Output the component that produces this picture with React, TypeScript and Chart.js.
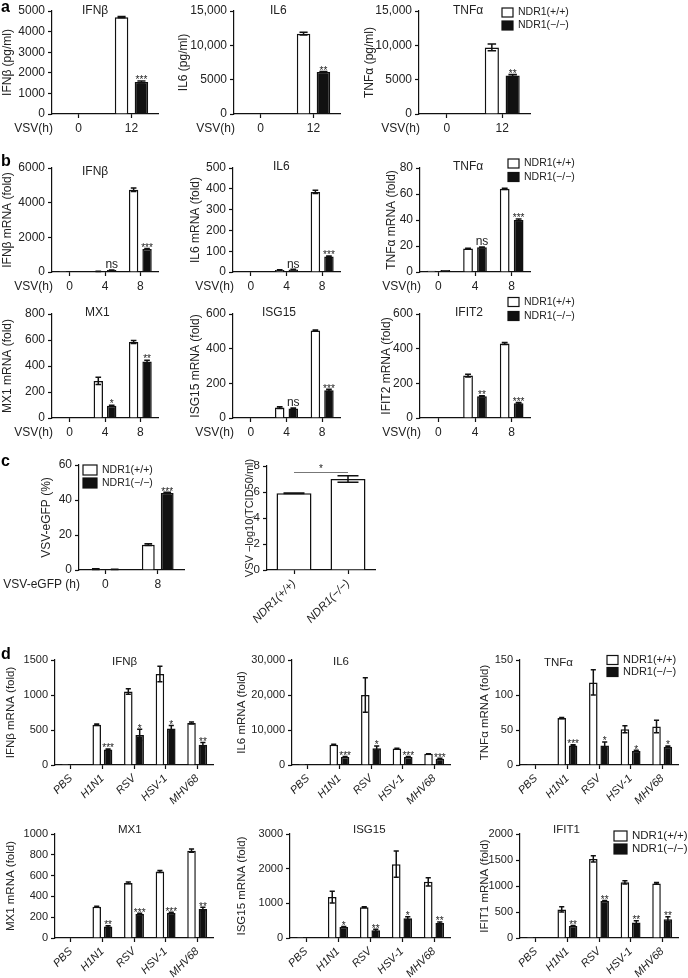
import React, { useEffect, useRef } from "react";
import { Chart, registerables } from "chart.js";
Chart.register(...registerables);

const FONT = "'Liberation Sans', Arial, Helvetica, sans-serif";
const INK = "#111";
const TXT = "#222";

// ---------- data ----------
const catA = ["0", "12"];
const aIfnbWT = [20, 4700];
const aIfnbWTErr = [0, 30];
const aIfnbKO = [20, 1550];
const aIfnbKOErr = [0, 50];
const aIfnbSig = ["", "***"];
const aIl6WT = [80, 11700];
const aIl6WTErr = [0, 200];
const aIl6KO = [60, 6100];
const aIl6KOErr = [0, 100];
const aIl6Sig = ["", "**"];
const aTnfWT = [60, 9700];
const aTnfWTErr = [0, 500];
const aTnfKO = [40, 5600];
const aTnfKOErr = [0, 150];
const aTnfSig = ["", "**"];

const catB = ["0", "4", "8"];
const bIfnbWT = [3, 40, 4750];
const bIfnbWTErr = [0, 5, 100];
const bIfnbKO = [3, 110, 1330];
const bIfnbKOErr = [0, 10, 20];
const bIfnbSig = ["", "ns", "***"];
const bIl6WT = [3, 10, 385];
const bIl6WTErr = [0, 1, 8];
const bIl6KO = [2, 12, 75];
const bIl6KOErr = [0, 1, 2];
const bIl6Sig = ["", "ns", "***"];
const bTnfWT = [1, 18, 64];
const bTnfWTErr = [0, 0.3, 0.5];
const bTnfKO = [1.5, 19, 40];
const bTnfKOErr = [0, 0.3, 0.8];
const bTnfSig = ["", "ns", "***"];
const bMx1WT = [5, 285, 585];
const bMx1WTErr = [0, 28, 12];
const bMx1KO = [1, 95, 435];
const bMx1KOErr = [0, 4, 10];
const bMx1Sig = ["", "*", "**"];
const bIsgWT = [3, 60, 505];
const bIsgWTErr = [0, 5, 3];
const bIsgKO = [3, 55, 160];
const bIsgKOErr = [0, 3, 6];
const bIsgSig = ["", "ns", "***"];
const bIfit2WT = [3, 245, 430];
const bIfit2WTErr = [0, 8, 6];
const bIfit2KO = [2, 125, 85];
const bIfit2KOErr = [0, 3, 5];
const bIfit2Sig = ["", "**", "***"];

const catC = ["0", "8"];
const cGfpWT = [0.5, 14.5];
const cGfpWTErr = [0.2, 0.5];
const cGfpKO = [0.4, 44];
const cGfpKOErr = [0.1, 0.4];
const cGfpSig = ["", "***"];
const catTcid = ["NDR1(+/+)", "NDR1(\u2212/\u2212)"];
const cTcid = [5.9, 7.0];
const cTcidErr = [0.02, 0.25];

const catD = ["PBS", "H1N1", "RSV", "HSV-1", "MHV68"];
const dIfnbWT = [1, 575, 1050, 1300, 600];
const dIfnbWTErr = [0, 10, 40, 110, 15];
const dIfnbKO = [1, 220, 430, 520, 290];
const dIfnbKOErr = [0, 10, 80, 45, 30];
const dIfnbSig = ["", "***", "*", "*", "**"];
const dIl6WT = [10, 5800, 20000, 4700, 3200];
const dIl6WTErr = [0, 150, 4900, 100, 50];
const dIl6KO = [10, 2300, 4800, 2300, 1800];
const dIl6KOErr = [0, 100, 600, 100, 100];
const dIl6Sig = ["", "***", "*", "***", "***"];
const dTnfWT = [1.2, 67, 118, 51, 55];
const dTnfWTErr = [0, 1, 18, 5, 9];
const dTnfKO = [1.2, 28, 28, 20, 26];
const dTnfKOErr = [0, 1, 5, 1, 1];
const dTnfSig = ["", "***", "*", "*", "*"];
const dMx1WT = [5, 300, 530, 640, 840];
const dMx1WTErr = [0, 5, 8, 10, 15];
const dMx1KO = [1, 110, 230, 240, 280];
const dMx1KOErr = [0, 8, 8, 8, 15];
const dMx1Sig = ["", "**", "***", "***", "**"];
const dIsgWT = [1, 1180, 890, 2130, 1620];
const dIsgWTErr = [0, 170, 15, 380, 120];
const dIsgKO = [1, 320, 220, 570, 430];
const dIsgKOErr = [0, 15, 30, 40, 30];
const dIsgSig = ["", "*", "**", "*", "**"];
const dIfit1WT = [1, 550, 1520, 1070, 1050];
const dIfit1WTErr = [0, 50, 60, 30, 15];
const dIfit1KO = [1, 230, 710, 300, 360];
const dIfit1KOErr = [0, 10, 10, 30, 50];
const dIfit1Sig = ["", "**", "**", "**", "**"];

const LEG_WT = "NDR1(+/+)";
const LEG_KO = "NDR1(\u2212/\u2212)";

// ---------- specs ----------
type Legend = { x: number; y: number; w: number; h: number; gap: number; size: number };
type Spec = {
  id: string;
  box: number[];
  plot: number[];
  xH: number;
  cats: string[];
  wt: number[];
  wtErr: number[];
  ko?: number[];
  koErr?: number[];
  sig?: string[];
  yMax: number;
  yStep: number;
  yTitle: string;
  yTitleX: number;
  yTitleSize: number;
  title?: string;
  tx?: number;
  ty?: number;
  titleSize?: number;
  caption?: string;
  tickSize: number;
  rotate?: boolean;
  cp: number;
  bp: number;
  legend?: Legend;
  bracket?: { v: number; text: string };
};

const A = { xH: 22, tickSize: 12, yTitleSize: 12, titleSize: 12, cp: 0.75, bp: 0.68, caption: "VSV(h)" };
const B = { xH: 22, tickSize: 12, yTitleSize: 12, titleSize: 12, cp: 0.76, bp: 0.7, caption: "VSV(h)" };
const D = { xH: 45, tickSize: 11, yTitleSize: 11.5, titleSize: 11.5, cp: 0.72, bp: 0.75, rotate: true };

const specs: Spec[] = [
  { id: "a1", ...A, box: [0, 0, 172, 142], plot: [52, 11, 158, 114], cats: catA, wt: aIfnbWT, wtErr: aIfnbWTErr, ko: aIfnbKO, koErr: aIfnbKOErr, sig: aIfnbSig, yMax: 5000, yStep: 1000, yTitle: "IFN\u03b2 (pg/ml)", yTitleX: 8, title: "IFN\u03b2", tx: 82, ty: 11 },
  { id: "a2", ...A, box: [172, 0, 190, 142], plot: [234, 11, 340, 114], cats: catA, wt: aIl6WT, wtErr: aIl6WTErr, ko: aIl6KO, koErr: aIl6KOErr, sig: aIl6Sig, yMax: 15000, yStep: 5000, yTitle: "IL6 (pg/ml)", yTitleX: 184, title: "IL6", tx: 270, ty: 11 },
  { id: "a3", ...A, box: [362, 0, 326, 142], plot: [419, 11, 530, 114], cats: catA, wt: aTnfWT, wtErr: aTnfWTErr, ko: aTnfKO, koErr: aTnfKOErr, sig: aTnfSig, yMax: 15000, yStep: 5000, yTitle: "TNF\u03b1 (pg/ml)", yTitleX: 366, title: "TNF\u03b1", tx: 453, ty: 11, legend: { x: 502, y: 12.5, w: 11, h: 9, gap: 13, size: 10.5 } },

  { id: "b1", ...B, box: [0, 148, 172, 147], plot: [52, 168, 158, 272], cats: catB, wt: bIfnbWT, wtErr: bIfnbWTErr, ko: bIfnbKO, koErr: bIfnbKOErr, sig: bIfnbSig, yMax: 6000, yStep: 2000, yTitle: "IFN\u03b2 mRNA (fold)", yTitleX: 7, title: "IFN\u03b2", tx: 82, ty: 172 },
  { id: "b2", ...B, box: [172, 148, 190, 147], plot: [233, 168, 340, 272], cats: catB, wt: bIl6WT, wtErr: bIl6WTErr, ko: bIl6KO, koErr: bIl6KOErr, sig: bIl6Sig, yMax: 500, yStep: 100, yTitle: "IL6 mRNA (fold)", yTitleX: 196, title: "IL6", tx: 273, ty: 167 },
  { id: "b3", ...B, box: [362, 148, 326, 147], plot: [420, 168, 530, 272], cats: catB, wt: bTnfWT, wtErr: bTnfWTErr, ko: bTnfKO, koErr: bTnfKOErr, sig: bTnfSig, yMax: 80, yStep: 20, yTitle: "TNF\u03b1 mRNA (fold)", yTitleX: 392, title: "TNF\u03b1", tx: 453, ty: 167, legend: { x: 508, y: 163.5, w: 11, h: 9, gap: 13.5, size: 10.5 } },
  { id: "b4", ...B, box: [0, 295, 172, 147], plot: [52, 314, 158, 418], cats: catB, wt: bMx1WT, wtErr: bMx1WTErr, ko: bMx1KO, koErr: bMx1KOErr, sig: bMx1Sig, yMax: 800, yStep: 200, yTitle: "MX1 mRNA (fold)", yTitleX: 7, title: "MX1", tx: 85, ty: 313 },
  { id: "b5", ...B, box: [172, 295, 190, 147], plot: [233, 314, 340, 418], cats: catB, wt: bIsgWT, wtErr: bIsgWTErr, ko: bIsgKO, koErr: bIsgKOErr, sig: bIsgSig, yMax: 600, yStep: 200, yTitle: "ISG15 mRNA (fold)", yTitleX: 196, title: "ISG15", tx: 262, ty: 313 },
  { id: "b6", ...B, box: [362, 295, 326, 147], plot: [420, 314, 530, 418], cats: catB, wt: bIfit2WT, wtErr: bIfit2WTErr, ko: bIfit2KO, koErr: bIfit2KOErr, sig: bIfit2Sig, yMax: 600, yStep: 200, yTitle: "IFIT2 mRNA (fold)", yTitleX: 387, title: "IFIT2", tx: 455, ty: 313, legend: { x: 508, y: 302, w: 11, h: 9, gap: 14, size: 10.5 } },

  { id: "c1", xH: 22, tickSize: 12, yTitleSize: 12, cp: 0.72, bp: 0.68, caption: "VSV-eGFP (h)", box: [0, 442, 230, 160], plot: [79, 465, 184, 570], cats: catC, wt: cGfpWT, wtErr: cGfpWTErr, ko: cGfpKO, koErr: cGfpKOErr, sig: cGfpSig, yMax: 60, yStep: 20, yTitle: "VSV-eGFP (%)", yTitleX: 47, legend: { x: 83, y: 470, w: 14, h: 10, gap: 13, size: 10.5 } },
  { id: "c2", xH: 60, tickSize: 11.5, yTitleSize: 11, cp: 0.8, bp: 0.81, rotate: true, box: [230, 442, 230, 198], plot: [267, 466, 375, 570], cats: catTcid, wt: cTcid, wtErr: cTcidErr, yMax: 8, yStep: 2, yTitle: "VSV \u2212log10(TCID50/ml)", yTitleX: 250, bracket: { v: 7.5, text: "*" } },

  { id: "d1", ...D, box: [0, 640, 225, 172], plot: [55, 660, 213, 765], cats: catD, wt: dIfnbWT, wtErr: dIfnbWTErr, ko: dIfnbKO, koErr: dIfnbKOErr, sig: dIfnbSig, yMax: 1500, yStep: 500, yTitle: "IFN\u03b2 mRNA (fold)", yTitleX: 11, title: "IFN\u03b2", tx: 112, ty: 662 },
  { id: "d2", ...D, box: [225, 640, 235, 172], plot: [292, 660, 450, 765], cats: catD, wt: dIl6WT, wtErr: dIl6WTErr, ko: dIl6KO, koErr: dIl6KOErr, sig: dIl6Sig, yMax: 30000, yStep: 10000, yTitle: "IL6 mRNA (fold)", yTitleX: 242, title: "IL6", tx: 333, ty: 662 },
  { id: "d3", ...D, box: [460, 640, 228, 172], plot: [520, 660, 678, 765], cats: catD, wt: dTnfWT, wtErr: dTnfWTErr, ko: dTnfKO, koErr: dTnfKOErr, sig: dTnfSig, yMax: 150, yStep: 50, yTitle: "TNF\u03b1 mRNA (fold)", yTitleX: 485, title: "TNF\u03b1", tx: 544, ty: 663, legend: { x: 607, y: 660, w: 11, h: 9, gap: 12, size: 11 } },
  { id: "d4", ...D, box: [0, 812, 225, 166], plot: [55, 834, 213, 938], cats: catD, wt: dMx1WT, wtErr: dMx1WTErr, ko: dMx1KO, koErr: dMx1KOErr, sig: dMx1Sig, yMax: 1000, yStep: 200, yTitle: "MX1 mRNA (fold)", yTitleX: 11, title: "MX1", tx: 118, ty: 830 },
  { id: "d5", ...D, box: [225, 812, 235, 166], plot: [290, 834, 450, 938], cats: catD, wt: dIsgWT, wtErr: dIsgWTErr, ko: dIsgKO, koErr: dIsgKOErr, sig: dIsgSig, yMax: 3000, yStep: 1000, yTitle: "ISG15 mRNA (fold)", yTitleX: 242, title: "ISG15", tx: 353, ty: 830 },
  { id: "d6", ...D, box: [460, 812, 228, 166], plot: [520, 834, 678, 938], cats: catD, wt: dIfit1WT, wtErr: dIfit1WTErr, ko: dIfit1KO, koErr: dIfit1KOErr, sig: dIfit1Sig, yMax: 2000, yStep: 500, yTitle: "IFIT1 mRNA (fold)", yTitleX: 485, title: "IFIT1", tx: 553, ty: 830, legend: { x: 614, y: 836, w: 13, h: 10, gap: 13, size: 11.5 } },
];

const fmt = (v: number) => (v >= 10000 ? Number(v).toLocaleString("en-US") : String(v));

function Panel({ spec }: { spec: Spec }) {
  const ref = useRef<HTMLCanvasElement | null>(null);
  useEffect(() => {
    const [bx, by, bw, bh] = spec.box;
    const [pl, pt, pr, pb] = spec.plot;
    const lh = spec.yTitleSize * 1.2;
    const axisLeft = Math.max(bx, spec.yTitleX - lh / 2);
    const yW = pl - axisLeft;
    const padding = {
      left: axisLeft - bx,
      top: pt - by,
      right: bx + bw - pr,
      bottom: by + bh - pb - spec.xH,
    };
    const errs = [spec.wtErr, spec.koErr || []];
    const grid = {
      display: true,
      drawOnChartArea: false,
      drawTicks: true,
      tickLength: 4,
      tickWidth: 1.2,
      tickColor: INK,
      offset: false,
    };
    const border = { display: true, color: INK, width: 1.2 };
    const datasets: any[] = [
      {
        label: LEG_WT,
        data: spec.wt,
        backgroundColor: "#ffffff",
        borderColor: INK,
        borderWidth: 1.5,
        categoryPercentage: spec.cp,
        barPercentage: spec.bp,
      },
    ];
    if (spec.ko) {
      datasets.push({
        label: LEG_KO,
        data: spec.ko,
        backgroundColor: INK,
        borderColor: INK,
        borderWidth: 1.5,
        categoryPercentage: spec.cp,
        barPercentage: spec.bp,
      });
    }
    const decor = {
      id: "decor",
      afterDatasetsDraw(chart: any) {
        const ctx = chart.ctx as CanvasRenderingContext2D;
        const ys = chart.scales.y;
        const area = chart.chartArea;
        ctx.save();
        // error bars + significance
        chart.data.datasets.forEach((ds: any, di: number) => {
          const meta = chart.getDatasetMeta(di);
          meta.data.forEach((bar: any, i: number) => {
            const v = ds.data[i];
            const e = (errs[di] && errs[di][i]) || 0;
            const x = bar.x;
            const capW = Math.max(5, bar.width * 0.6);
            if (e > 0) {
              const y1 = ys.getPixelForValue(v + e);
              const y0 = ys.getPixelForValue(Math.max(0, v - e));
              ctx.strokeStyle = INK;
              ctx.lineWidth = 1.5;
              ctx.beginPath();
              ctx.moveTo(x, y0);
              ctx.lineTo(x, y1);
              ctx.moveTo(x - capW / 2, y1);
              ctx.lineTo(x + capW / 2, y1);
              ctx.moveTo(x - capW / 2, y0);
              ctx.lineTo(x + capW / 2, y0);
              ctx.stroke();
            }
            if (di === 1 && spec.sig && spec.sig[i]) {
              const t = spec.sig[i];
              const top = ys.getPixelForValue(v + e);
              ctx.fillStyle = TXT;
              ctx.textAlign = "center";
              ctx.textBaseline = "alphabetic";
              if (t === "ns") {
                ctx.font = `12px ${FONT}`;
                ctx.fillText(t, x, top - 1.5);
              } else {
                ctx.font = `10px ${FONT}`;
                ctx.fillText(t, x, top + 2.3);
              }
            }
          });
        });
        // bracket
        if (spec.bracket) {
          const m = chart.getDatasetMeta(0).data;
          const yL = ys.getPixelForValue(spec.bracket.v);
          ctx.strokeStyle = "#777";
          ctx.lineWidth = 1;
          ctx.beginPath();
          ctx.moveTo(m[0].x, yL);
          ctx.lineTo(m[1].x, yL);
          ctx.stroke();
          ctx.fillStyle = TXT;
          ctx.font = `10px ${FONT}`;
          ctx.textAlign = "center";
          ctx.textBaseline = "alphabetic";
          ctx.fillText(spec.bracket.text, (m[0].x + m[1].x) / 2, yL - 1);
        }
        // title
        if (spec.title) {
          ctx.fillStyle = TXT;
          ctx.font = `${spec.titleSize || 12}px ${FONT}`;
          ctx.textAlign = "left";
          ctx.textBaseline = "middle";
          ctx.fillText(spec.title, (spec.tx as number) - bx, (spec.ty as number) - by);
        }
        // caption
        if (spec.caption) {
          ctx.fillStyle = TXT;
          ctx.font = `${spec.tickSize}px ${FONT}`;
          ctx.textAlign = "right";
          ctx.textBaseline = "middle";
          ctx.fillText(spec.caption, area.left + 1, area.bottom + 7 + (spec.tickSize * 1.2) / 2);
        }
        // legend
        if (spec.legend) {
          const L = spec.legend;
          const rows = [
            { t: LEG_WT, fill: "#ffffff" },
            { t: LEG_KO, fill: INK },
          ];
          rows.forEach((r, k) => {
            const cy = L.y + k * L.gap - by;
            const lx = L.x - bx;
            ctx.fillStyle = r.fill;
            ctx.fillRect(lx, cy - L.h / 2, L.w, L.h);
            ctx.strokeStyle = INK;
            ctx.lineWidth = 1.2;
            ctx.strokeRect(lx, cy - L.h / 2, L.w, L.h);
            ctx.fillStyle = TXT;
            ctx.font = `${L.size}px ${FONT}`;
            ctx.textAlign = "left";
            ctx.textBaseline = "middle";
            ctx.fillText(r.t, lx + L.w + 5, cy);
          });
        }
        ctx.restore();
      },
    };
    const rot = spec.rotate ? 45 : 0;
    const chart = new Chart(ref.current as HTMLCanvasElement, {
      type: "bar",
      data: { labels: spec.cats, datasets },
      options: {
        animation: false,
        responsive: false,
        maintainAspectRatio: false,
        events: [],
        layout: { padding },
        plugins: {
          legend: { display: false },
          tooltip: { enabled: false },
          title: { display: false },
        },
        scales: {
          x: {
            type: "category",
            offset: true,
            grid,
            border,
            ticks: {
              color: TXT,
              font: { family: FONT, size: spec.tickSize, style: spec.rotate ? "italic" : "normal" },
              padding: 3,
              autoSkip: false,
              maxRotation: rot,
              minRotation: rot,
            },
            afterFit: (s: any) => {
              s.height = spec.xH;
            },
          },
          y: {
            min: 0,
            max: spec.yMax,
            grid,
            border,
            ticks: {
              color: TXT,
              font: { family: FONT, size: spec.tickSize },
              padding: 3,
              stepSize: spec.yStep,
              callback: (v: any) => fmt(Number(v)),
            },
            title: {
              display: true,
              text: spec.yTitle,
              color: TXT,
              font: { family: FONT, size: spec.yTitleSize },
              padding: 0,
            },
            afterFit: (s: any) => {
              s.width = yW;
            },
          },
        },
      } as any,
      plugins: [decor],
    });
    return () => chart.destroy();
  }, [spec]);
  const [bx, by, bw, bh] = spec.box;
  return (
    <canvas
      ref={ref}
      width={bw}
      height={bh}
      style={{ position: "absolute", left: bx, top: by, width: bw, height: bh }}
    />
  );
}

const letters = [
  { t: "a", x: 1, y: -2 },
  { t: "b", x: 1, y: 152 },
  { t: "c", x: 1, y: 452 },
  { t: "d", x: 1, y: 645 },
];

export default function App() {
  useEffect(() => {
    document.body.style.margin = "0";
  }, []);
  return (
    <div style={{ position: "absolute", left: 0, top: 0, width: 688, height: 978, background: "#fff", overflow: "hidden" }}>
      {specs.map((s) => (
        <Panel key={s.id} spec={s} />
      ))}
      {letters.map((l) => (
        <div
          key={l.t}
          style={{
            position: "absolute",
            left: l.x,
            top: l.y,
            font: `bold 16px ${FONT}`,
            color: "#000",
            lineHeight: "18px",
          }}
        >
          {l.t}
        </div>
      ))}
    </div>
  );
}
